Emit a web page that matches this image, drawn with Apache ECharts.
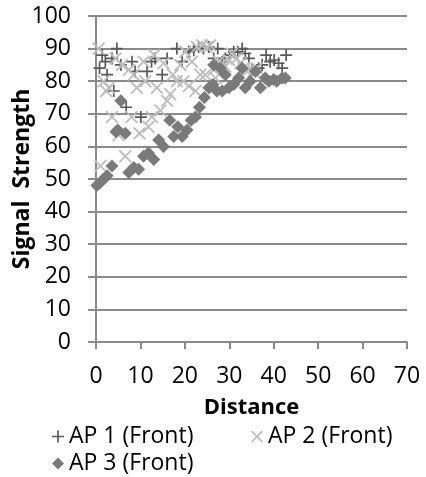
<!DOCTYPE html>
<html>
<head>
<meta charset="utf-8">
<script src="https://cdn.jsdelivr.net/npm/echarts@6/dist/echarts.min.js"></script>
<style>
  html, body { margin: 0; padding: 0; background: #ffffff; }
  #chart { width: 426px; height: 477px; }
</style>
</head>
<body>
<div id="chart"></div>
<script>
// Access point readings: distance vs received signal strength
const seriesNames = ['AP 1 (Front)', 'AP 2 (Front)', 'AP 3 (Front)'];

const ap1Distance = [0.8, 1.4, 2.1, 2.5, 3.6, 4.0, 4.7, 5.6, 6.8, 8.1, 8.8, 10.1, 11.5, 12.5, 13.3, 14.9, 16.0, 18.2, 19.4, 20.9, 22.0, 23.1, 24.2, 25.4, 26.5, 27.4, 28.4, 29.1, 30.1, 31.0, 31.9, 32.9, 33.6, 34.4, 35.1, 36.6, 37.4, 38.3, 39.2, 40.1, 41.1, 41.9, 42.8];
const ap1Signal   = [84, 88, 86, 82, 87, 77, 90, 85, 72, 86, 83, 69, 83, 86, 87, 82, 87, 90, 86, 89, 89.5, 90.5, 90, 90.5, 87, 90, 86, 87, 88, 89, 89, 90, 88.5, 87, 83.5, 84, 85, 88, 86, 86.5, 85.5, 84, 88];

const ap2Distance = [0.6, 1.0, 1.7, 2.3, 2.9, 3.6, 4.4, 5.1, 5.9, 6.6, 7.4, 8.0, 8.5, 9.2, 9.8, 10.7, 11.1, 11.8, 12.6, 13.1, 13.7, 14.5, 15.2, 16.0, 16.7, 17.3, 18.2, 19.0, 19.7, 20.1, 20.9, 21.6, 22.4, 22.7, 23.5, 23.9, 24.6, 25.0, 25.7, 26.5, 26.9, 27.6, 28.4, 29.1, 29.9, 30.6, 31.7, 32.5, 33.2, 34.4, 35.5, 36.2];
const ap2Signal   = [90, 54, 80, 77, 78, 69, 87, 63.5, 85, 57, 83.5, 69, 82, 78, 64, 86, 80, 66, 69, 88, 78, 71, 85.5, 74, 76, 82, 80, 85, 80, 89, 78.5, 86, 77, 90.5, 82, 91, 82, 90.5, 91, 83.5, 81, 86, 85.5, 84.5, 86.5, 88.5, 87, 85.5, 84, 83.5, 83, 84];

const ap3Distance = [0.2, 1.0, 1.7, 2.5, 3.6, 4.5, 4.9, 5.6, 6.6, 7.4, 8.5, 9.6, 10.7, 11.8, 13.0, 14.1, 15.2, 16.6, 17.5, 18.4, 19.4, 20.5, 21.4, 22.4, 23.3, 24.4, 25.4, 26.3, 26.5, 27.2, 28.0, 28.4, 29.1, 29.9, 31.0, 32.1, 32.9, 33.6, 34.7, 35.9, 37.0, 38.1, 38.9, 40.0, 40.7, 41.9, 42.6];
const ap3Signal   = [48, 49, 50, 51, 54, 64.5, 65, 74, 64, 52, 53.5, 53, 57, 58, 56, 62, 60, 68, 63, 66, 63, 65, 68, 69, 72, 75, 78, 79, 85, 77, 84, 77, 82, 78, 79, 81, 84, 78, 80, 83, 78, 81, 80, 80.5, 80, 81, 81];

const xTicks = { min: 0, max: 70, interval: 10 };
const yTicks = { min: 0, max: 100, interval: 10 };

function pairs(xs, ys) {
  return xs.map((x, i) => [x, ys[i]]);
}

// Marker glyphs drawn as filled outlines
const plusPath  = 'path://M4.3,0H5.7V4.3H10V5.7H5.7V10H4.3V5.7H0V4.3H4.3Z';
const crossPath = 'path://M0,1L1,0L5,4L9,0L10,1L6,5L10,9L9,10L5,6L1,10L0,9L4,5Z';
const diamondPath = 'path://M5,0L10,5L5,10L0,5Z';

const colors = ['#595959', '#bdbdbd', '#7a7a7a'];
const symbols = [plusPath, crossPath, diamondPath];
const sizes = [12, 13, 13];
const dataSets = [
  pairs(ap1Distance, ap1Signal),
  pairs(ap2Distance, ap2Signal),
  pairs(ap3Distance, ap3Signal)
];

const font = '"Open Sans", sans-serif';
const gridColor = '#8a8a8a';

const chart = echarts.init(document.getElementById('chart'), null, { renderer: 'canvas' });

const legendSpots = [
  { left: 52, top: 425 },
  { left: 251, top: 425 },
  { left: 52, top: 452 }
];

chart.setOption({
  backgroundColor: '#ffffff',
  animation: false,
  grid: { left: 96, right: 19, top: 16, bottom: 135, containLabel: false, outerBoundsMode: 'none' },
  xAxis: {
    type: 'value',
    min: xTicks.min, max: xTicks.max, interval: xTicks.interval,
    name: 'Distance',
    nameLocation: 'middle',
    nameGap: 55,
    nameMoveOverlap: false,
    nameTextStyle: { fontFamily: font, fontWeight: 'bold', fontSize: 22, color: '#000' },
    axisLine: { show: true, onZero: false, lineStyle: { color: gridColor, width: 2 } },
    axisTick: { show: true, length: 7, inside: false, lineStyle: { color: gridColor, width: 2 } },
    axisLabel: { margin: 23, fontFamily: font, fontSize: 23, color: '#000' },
    splitLine: { show: false }
  },
  yAxis: {
    type: 'value',
    min: yTicks.min, max: yTicks.max, interval: yTicks.interval,
    name: 'Signal  Strength',
    nameLocation: 'middle',
    nameGap: 62,
    nameMoveOverlap: false,
    nameTextStyle: { fontFamily: font, fontWeight: 'bold', fontSize: 23, color: '#000' },
    axisLine: { show: true, lineStyle: { color: gridColor, width: 2 } },
    axisTick: { show: true, length: 8, inside: false, lineStyle: { color: gridColor, width: 2 } },
    axisLabel: { margin: 25, fontFamily: font, fontSize: 23, color: '#000' },
    splitLine: { show: true, lineStyle: { color: gridColor, width: 2 } }
  },
  legend: seriesNames.map((name, i) => ({
    data: [name],
    left: legendSpots[i].left,
    top: legendSpots[i].top,
    orient: 'horizontal',
    itemWidth: 12,
    itemHeight: 12,
    itemGap: 5,
    padding: 0,
    icon: symbols[i],
    textStyle: { fontFamily: font, fontSize: 23, color: '#000' }
  })),
  series: seriesNames.map((name, i) => ({
    name: name,
    type: 'scatter',
    data: dataSets[i],
    symbol: symbols[i],
    symbolSize: sizes[i],
    itemStyle: { color: colors[i], opacity: 1 },
    z: 2 + i
  }))
});
</script>
</body>
</html>
